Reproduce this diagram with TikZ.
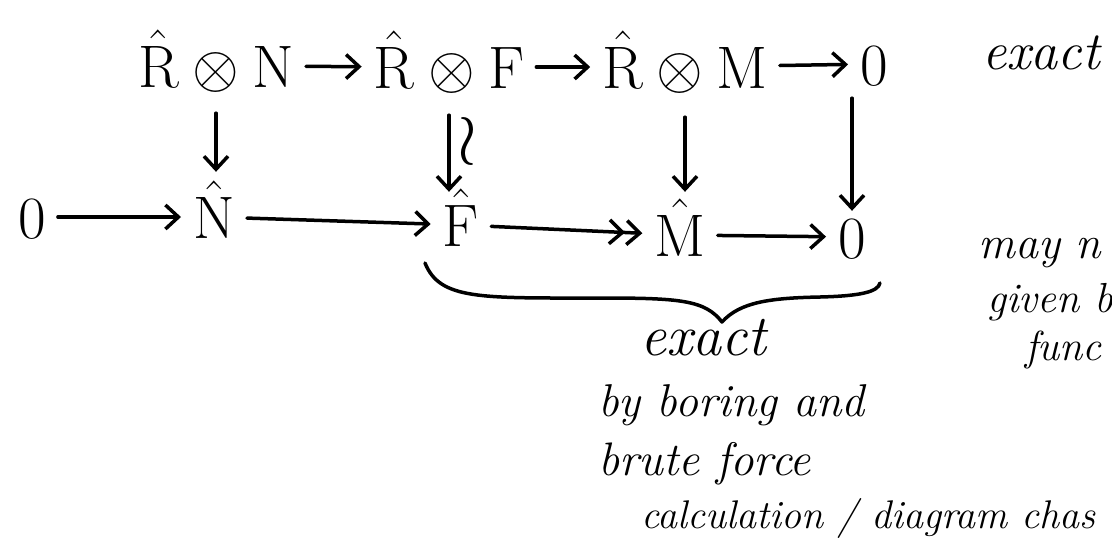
\RequirePackage{fix-cm}
\documentclass[tikz,border=0pt]{standalone}
\usepackage{amsmath}
\usepackage{amssymb}
\usetikzlibrary{arrows.meta, positioning}
\tikzset{
	obj/.style    ={inner sep=2pt, anchor=base, text height=42pt, text depth=0pt, font=\fontsize{60}{64}\selectfont},
	note/.style   ={inner sep=0pt, anchor=base west, font=\fontsize{46}{50}\selectfont\itshape},
	mapto/.style  ={-{Straight Barb[length=13pt, width=24pt]}, line width=3.5pt, line cap=round, shorten <=10pt, shorten >=10pt},
	epito/.style  ={-{Straight Barb[length=13pt, width=24pt] Straight Barb[length=13pt, width=24pt]}, line width=3.5pt, line cap=round, shorten <=10pt, shorten >=10pt},
	brace/.style  ={line width=3.5pt, line cap=round, line join=round},
}

\begin{document}
\begin{tikzpicture}[x=1pt, y=-1pt]
	\useasboundingbox (0,0) rectangle (1112,542);
	% top row
	\node[obj] (rn) at (216,87) {$\hat{\mathrm{R}}\otimes\mathrm{N}$};
	\node[obj] (rf) at (449,88) {$\hat{\mathrm{R}}\otimes\mathrm{F}$};
	\node[obj] (rm) at (685,88) {$\hat{\mathrm{R}}\otimes\mathrm{M}$};
	\node[obj] (zt) at (874,85) {$0$};
	\node[note, font=\fontsize{54}{58}\selectfont\itshape] (exTop) at (982,69) {exact};
	% bottom row
	\node[obj] (zl) at (32,238) {$0$};
	\node[obj] (nh) at (214,238) {$\hat{\mathrm{N}}$};
	\node[obj] (fh) at (461,246) {$\hat{\mathrm{F}}$};
	\node[obj] (mh) at (680,256) {$\hat{\mathrm{M}}$};
	\node[obj] (zr) at (852,258) {$0$};
	% horizontal maps
	\draw[mapto] (rn) -- (rf);
	\draw[mapto] (rf) -- (rm);
	\draw[mapto] (rm) -- (zt);
	\draw[mapto] (zl) -- (nh);
	\draw[mapto] (nh) -- (fh);
	\draw[epito] (fh) -- (mh);
	\draw[mapto] (mh) -- (zr);
	% vertical maps
	\draw[mapto, shorten <=24pt, shorten >=22pt] (rn.south) -- (rn.south |- nh.north);
	\draw[mapto, shorten <=25pt, shorten >=10pt] (rf.south) -- (rf.south |- fh.north)
		node[pos=0.46, right=3pt, font=\fontsize{72}{76}\selectfont] (iso) {$\wr$};
	\draw[mapto, shorten <=27pt, shorten >=20pt] (rm.south) -- (rm.south |- mh.north);
	\draw[mapto, shorten <=11pt, shorten >=3pt] (zt.south -| zr) -- (zr.north);
	% brace under the short exact sequence
	\draw[brace] (425,263) .. controls (440,300) and (480,298) .. (600,298)
		.. controls (680,298) and (705,300) .. (722,322)
		.. controls (740,302) and (770,298) .. (820,297)
		.. controls (860,296) and (878,292) .. (880,283);
	\node[note, font=\fontsize{58}{62}\selectfont\itshape] (exBot) at (640,355) {exact};
	\node[note] (byb) at (598,416) {by boring and};
	\node[note, font=\fontsize{47}{50}\selectfont\itshape] (brf) at (598,475) {brute force};
	\node[note, font=\fontsize{40}{44}\selectfont\itshape] (calc) at (641,528) {calculation / diagram chas};
	% side remark
	\node[note] (may) at (978,258) {may n};
	\node[note, font=\fontsize{42}{46}\selectfont\itshape] (giv) at (987,312) {given b};
	\node[note, font=\fontsize{42}{46}\selectfont\itshape] (fun) at (1025,360) {func};
\end{tikzpicture}
\end{document}
